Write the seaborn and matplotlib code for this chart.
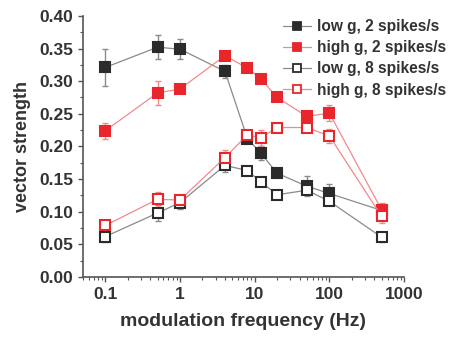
import matplotlib
matplotlib.use("Agg")
import matplotlib.pyplot as plt
import seaborn as sns
import pandas as pd
from matplotlib.lines import Line2D
from matplotlib.ticker import LogLocator, NullFormatter, FixedLocator

# data
freq = [0.1, 0.5, 1, 4, 8, 12, 20, 50, 100, 500]
low_g_2 = [0.321, 0.352, 0.349, 0.315, 0.212, 0.190, 0.159, 0.139, 0.128, 0.102]
low_g_2_err = [0.029, 0.018, 0.015, 0.010, 0.006, 0.010, 0.006, 0.015, 0.015, 0.008]
high_g_2 = [0.224, 0.282, 0.288, 0.339, 0.320, 0.304, 0.275, 0.246, 0.251, 0.103]
high_g_2_err = [0.012, 0.018, 0.005, 0.005, 0.006, 0.005, 0.004, 0.006, 0.012, 0.010]
low_g_8 = [0.062, 0.098, 0.114, 0.171, 0.163, 0.146, 0.126, 0.133, 0.116, 0.061]
low_g_8_err = [0.008, 0.012, 0.010, 0.010, 0.004, 0.004, 0.004, 0.005, 0.004, 0.008]
high_g_8 = [0.079, 0.119, 0.118, 0.183, 0.218, 0.213, 0.229, 0.229, 0.216, 0.093]
high_g_8_err = [0.008, 0.012, 0.008, 0.012, 0.005, 0.012, 0.005, 0.005, 0.010, 0.010]
labels = ["low g, 2 spikes/s", "high g, 2 spikes/s", "low g, 8 spikes/s", "high g, 8 spikes/s"]

black = "#2b2b2b"
red = "#e8262b"
series = [
    (low_g_2, low_g_2_err, black, "#8a8a8a", True),
    (high_g_2, high_g_2_err, red, "#f28a8d", True),
    (low_g_8, low_g_8_err, black, "#8a8a8a", False),
    (high_g_8, high_g_8_err, red, "#f28a8d", False),
]

sns.set_style("ticks")
plt.rcParams["font.family"] = ["Liberation Sans", "DejaVu Sans"]
plt.rcParams["font.weight"] = "bold"

fig = plt.figure(figsize=(4.5, 3.45), dpi=100)
ax = fig.add_axes([0.184, 0.197, 0.714, 0.757])

handles = []
for (vals, errs, col, lcol, filled), lab in zip(series, labels):
    df = pd.DataFrame({"freq": freq, "vs": vals})
    ax.errorbar(freq, vals, yerr=errs, fmt="none", ecolor=lcol, elinewidth=1,
                capsize=2.5, capthick=1, zorder=1)
    sns.lineplot(data=df, x="freq", y="vs", ax=ax, color=lcol, linewidth=0.9,
                 marker="s", markersize=7.5,
                 markerfacecolor=col if filled else "white",
                 markeredgecolor=col, markeredgewidth=1.5, zorder=2)
    handles.append(Line2D([], [], color=lcol, linewidth=0.9, marker="s", markersize=6,
                          markerfacecolor=col if filled else "white",
                          markeredgecolor=col, markeredgewidth=1.3, label=lab))

ax.set_xscale("log")
ax.set_xlim(0.05, 1000)
ax.set_ylim(0, 0.40)
ax.xaxis.set_major_locator(FixedLocator([0.1, 1, 10, 100, 1000]))
ax.set_xticklabels(["0.1", "1", "10", "100", "1000"])
ax.xaxis.set_minor_locator(LogLocator(base=10, subs=range(2, 10)))
ax.xaxis.set_minor_formatter(NullFormatter())
ax.set_yticks([0, 0.05, 0.10, 0.15, 0.20, 0.25, 0.30, 0.35, 0.40])
ax.set_yticklabels(["0.00", "0.05", "0.10", "0.15", "0.20", "0.25", "0.30", "0.35", "0.40"])
ax.yaxis.set_minor_locator(FixedLocator([0.025 + 0.05 * i for i in range(8)]))

sns.despine(ax=ax)
for s in ["left", "bottom"]:
    ax.spines[s].set_color("#555555")
    ax.spines[s].set_linewidth(1.2)
ax.tick_params(which="major", length=3.5, width=1, color="#555555",
               labelsize=12.5, labelcolor="#333333")
ax.tick_params(which="minor", length=2.2, width=0.8, color="#555555")
for t in ax.get_xticklabels() + ax.get_yticklabels():
    t.set_fontweight("bold")

ax.set_xlabel("modulation frequency (Hz)", fontsize=14, fontweight="bold",
              color="#333333", labelpad=8)
ax.set_ylabel("vector strength", fontsize=13, fontweight="bold",
              color="#333333", labelpad=6)

ax.legend(handles=handles, loc="upper right", bbox_to_anchor=(446 / 450, 1 - 19 / 345),
          bbox_transform=fig.transFigure, frameon=False, borderpad=0, borderaxespad=0,
          handlelength=1.8, handletextpad=0.35, labelspacing=0.4,
          prop={"weight": "bold", "size": 11.2})
for t in ax.get_legend().get_texts():
    t.set_color("#333333")

fig.savefig("out.png", dpi=100)
